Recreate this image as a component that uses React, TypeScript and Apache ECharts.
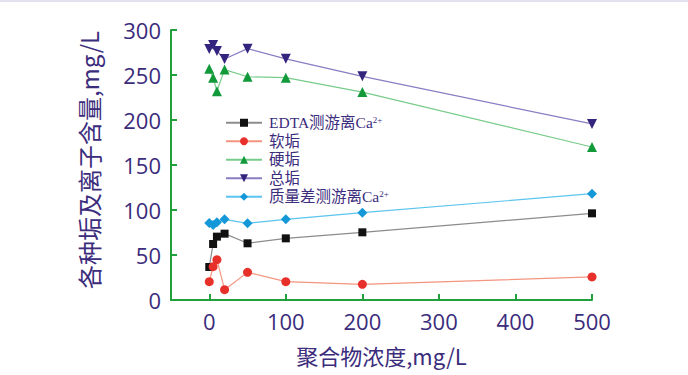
import React, { useEffect, useRef } from "react";
import * as echarts from "echarts";

const concentrations = [0, 5, 10, 20, 50, 100, 200, 500];
const edtaCa = [36.7, 62.2, 70.4, 73.7, 63, 68.5, 75.2, 96.3];
const softScale = [20.4, 37, 44.8, 11.5, 30.7, 20.4, 17.4, 25.6];
const hardScale = [257, 247, 232, 256, 248, 247, 231, 170];
const totalScale = [279, 283.3, 276.7, 267.8, 279.3, 268, 248.5, 195.6];
const massDiffCa = [85.6, 83.3, 86.3, 89.6, 85.2, 89.6, 97, 118.1];
const xTicks = [0, 100, 200, 300, 400, 500];
const seriesNames = ["EDTA测游离Ca2+", "软垢", "硬垢", "总垢", "质量差测游离Ca2+"];

const AXIS_GREEN = "#21a03c";
const TEXT_PURPLE = "#3b2c7c";

export default function App() {
  const ref = useRef<HTMLDivElement>(null);
  useEffect(() => {
    if (!ref.current) return;
    const chart = echarts.init(ref.current, undefined, { renderer: "svg" });
    const pair = (ys: number[]) => concentrations.map((x, i) => [x, ys[i]]);
    const mk = (
      name: string,
      ys: number[],
      symbol: string,
      size: number,
      lineColor: string,
      markColor: string,
      rotate = 0
    ) => ({
      name,
      type: "line",
      data: pair(ys),
      symbol,
      symbolSize: size,
      symbolRotate: rotate,
      showAllSymbol: true,
      lineStyle: { color: lineColor, width: 1.2 },
      itemStyle: { color: markColor, borderWidth: 0 },
      z: 3,
    });
    chart.setOption({
      animation: false,
      backgroundColor: "#ffffff",
      grid: { left: 171, right: 96, top: 30, bottom: 75 },
      graphic: [
        { type: "rect", shape: { x: 0, y: 0, width: 688, height: 2 }, style: { fill: "#e4e0f0" } },
      ],
      legend: {
        orient: "vertical",
        left: 220,
        top: 110,
        itemWidth: 36,
        itemHeight: 10,
        itemGap: 3,
        data: seriesNames,
        formatter: (n: string) => n.replace("Ca2+", "Ca{sup|2+}"),
        textStyle: {
          color: TEXT_PURPLE,
          fontSize: 15.5,
          lineHeight: 15.5,
          fontFamily: "'Liberation Serif', 'Noto Sans CJK SC', serif",
          padding: [0, 0, 0, 2],
          rich: {
            sup: {
              fontSize: 9,
              lineHeight: 15.5,
              fontFamily: "'Liberation Serif', serif",
              verticalAlign: "top",
              padding: [0, 0, 6, 0],
              color: TEXT_PURPLE,
            },
          },
        },
      },
      xAxis: {
        type: "value",
        min: -50,
        max: 500,
        name: "聚合物浓度,mg/L",
        nameLocation: "middle",
        nameGap: 44,
        nameTextStyle: {
          color: TEXT_PURPLE,
          fontSize: 22,
          fontFamily: "'Noto Sans CJK SC'",
          verticalAlign: "top",
        },
        axisLine: { show: true, onZero: false, lineStyle: { color: AXIS_GREEN, width: 2 } },
        axisTick: {
          show: true,
          inside: true,
          length: 6,
          customValues: xTicks,
          lineStyle: { color: AXIS_GREEN, width: 2 },
        },
        axisLabel: {
          color: TEXT_PURPLE,
          fontSize: 22,
          fontFamily: "'Open Sans'",
          margin: 10,
          customValues: xTicks,
        },
        splitLine: { show: false },
      },
      yAxis: {
        type: "value",
        min: 0,
        max: 300,
        interval: 50,
        name: "各种垢及离子含量,mg/L",
        nameLocation: "middle",
        nameRotate: 90,
        nameGap: 71,
        nameTextStyle: {
          color: TEXT_PURPLE,
          fontSize: 24,
          fontFamily: "'Noto Sans CJK SC'",
          fontWeight: "normal",
          padding: [0, 0, 0, 10],
        },
        axisLine: { show: true, onZero: false, lineStyle: { color: AXIS_GREEN, width: 2 } },
        axisTick: { show: true, inside: true, length: 6, lineStyle: { color: AXIS_GREEN, width: 2 } },
        axisLabel: {
          color: TEXT_PURPLE,
          fontSize: 22,
          fontFamily: "'Open Sans'",
          margin: 10,
        },
        splitLine: { show: false },
      },
      series: [
        mk(seriesNames[0], edtaCa, "rect", 8, "#8c8c8c", "#111111"),
        mk(seriesNames[1], softScale, "circle", 9, "#f3957f", "#e8302a"),
        mk(seriesNames[2], hardScale, "triangle", 10, "#78cc8a", "#129a3a"),
        mk(seriesNames[3], totalScale, "triangle", 10, "#8a7cc4", "#35247e", 180),
        mk(seriesNames[4], massDiffCa, "diamond", 10, "#5cc4ee", "#1598d8"),
      ],
    });
    return () => chart.dispose();
  }, []);
  return (
    <div
      ref={ref}
      style={{ position: "fixed", left: 0, top: 0, width: 688, height: 375, background: "#fff" }}
    />
  );
}
